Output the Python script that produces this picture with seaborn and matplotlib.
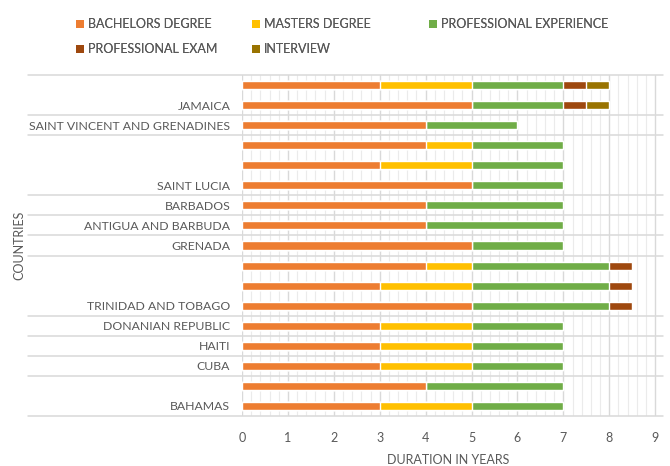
import matplotlib
matplotlib.use("Agg")
import matplotlib.pyplot as plt
from matplotlib.patches import Patch
from matplotlib.ticker import MultipleLocator
import seaborn as sns
import pandas as pd
import numpy as np

groups = ["JAMAICA", "JAMAICA", "SAINT VINCENT AND GRENADINES",
          "SAINT LUCIA", "SAINT LUCIA", "SAINT LUCIA", "BARBADOS",
          "ANTIGUA AND BARBUDA", "GRENADA",
          "TRINIDAD AND TOBAGO", "TRINIDAD AND TOBAGO", "TRINIDAD AND TOBAGO",
          "DONANIAN REPUBLIC", "HAITI", "CUBA", "BAHAMAS", "BAHAMAS"]
bachelors = [3, 5, 4, 4, 3, 5, 4, 4, 5, 4, 3, 5, 3, 3, 3, 4, 3]
masters = [2, 0, 0, 1, 2, 0, 0, 0, 0, 1, 2, 0, 2, 2, 2, 0, 2]
prof_exp = [2, 2, 2, 2, 2, 2, 3, 3, 2, 3, 3, 3, 2, 2, 2, 3, 2]
prof_exam = [0.5, 0.5, 0, 0, 0, 0, 0, 0, 0, 0.5, 0.5, 0.5, 0, 0, 0, 0, 0]
interview = [0.5, 0.5, 0, 0, 0, 0, 0, 0, 0, 0, 0, 0, 0, 0, 0, 0, 0]

series_names = ["BACHELORS DEGREE", "MASTERS DEGREE", "PROFESSIONAL EXPERIENCE",
                "PROFESSIONAL EXAM", "INTERVIEW"]
series = [bachelors, masters, prof_exp, prof_exam, interview]
colors = ["#ED7D31", "#FFC000", "#70AD47", "#9E480E", "#997300"]
text_col = "#595959"

sns.set_theme(style="white")
plt.rcParams["font.family"] = ["Lato", "DejaVu Sans"]

n = len(groups)
row_ids = [f"r{i}" for i in range(n)]
cum = np.cumsum(np.array(series, dtype=float), axis=0)

fig = plt.figure(figsize=(6.7, 4.66), dpi=100)
ax = fig.add_axes([242 / 670, 1 - 416 / 466, 421 / 670, 341 / 466])

# stacked bars: draw cumulative totals from the last segment to the first
for k in range(len(series) - 1, -1, -1):
    df = pd.DataFrame({"row": row_ids, "value": cum[k]})
    sns.barplot(data=df, x="value", y="row", order=row_ids, orient="h",
                color=colors[k], saturation=1, width=0.4, errorbar=None,
                ax=ax, zorder=3)

ax.set_xlim(0, 9.17)
ax.set_ylim(n - 0.5, -0.5)
ax.xaxis.set_major_locator(MultipleLocator(1))
ax.xaxis.set_minor_locator(MultipleLocator(0.2))
ax.set_xticks(range(0, 10))
ax.grid(axis="x", which="major", color="#D9D9D9", linewidth=1, zorder=0)
ax.grid(axis="x", which="minor", color="#EBEBEB", linewidth=0.8, zorder=0)
ax.grid(axis="y", visible=False)
for s in ax.spines.values():
    s.set_visible(False)

# y tick labels: group name on the last row of each group
labels = []
for i, g in enumerate(groups):
    last = (i == n - 1) or (groups[i + 1] != g)
    labels.append(g if last else "")
ax.set_yticks(range(n))
ax.set_yticklabels(labels)
ax.tick_params(axis="y", length=0, pad=8.5, labelsize=8.8, labelcolor=text_col)
ax.tick_params(axis="x", which="both", length=0, pad=11.5, labelsize=9,
               labelcolor=text_col)

# group separator lines extending into the label area
bounds = [-0.5] + [i + 0.5 for i in range(n - 1) if groups[i] != groups[i + 1]] + [n - 0.5]
xstart = (28 - 242) / 421
for b in bounds:
    ax.plot([xstart, 1.0], [b, b], transform=ax.get_yaxis_transform(),
            color="#D9D9D9", linewidth=1.1, clip_on=False, zorder=1)

ax.set_xlabel("DURATION IN YEARS", fontsize=9, color=text_col)
ax.xaxis.set_label_coords(0.49, (416 - 454) / 341)
ax.set_ylabel("COUNTRIES", fontsize=9, color=text_col)
ax.yaxis.set_label_coords((25 - 242) / 421, 0.5)

# legend laid out in three columns as in the reference
cols = [[0, 3], [1, 4], [2]]
xs = [76, 252, 429]
for c, xpix in zip(cols, xs):
    handles = [Patch(facecolor=colors[i], edgecolor="none") for i in c]
    lab = [series_names[i] for i in c]
    leg = fig.legend(handles, lab, loc="upper left",
                     bbox_to_anchor=(xpix / 670, 1 - 18 / 466),
                     frameon=False, fontsize=9, labelcolor=text_col,
                     handlelength=0.6, handleheight=0.6, handletextpad=0.35,
                     borderpad=0, borderaxespad=0, labelspacing=1.05)
    fig.add_artist(leg)

fig.savefig("out.png", dpi=100)
